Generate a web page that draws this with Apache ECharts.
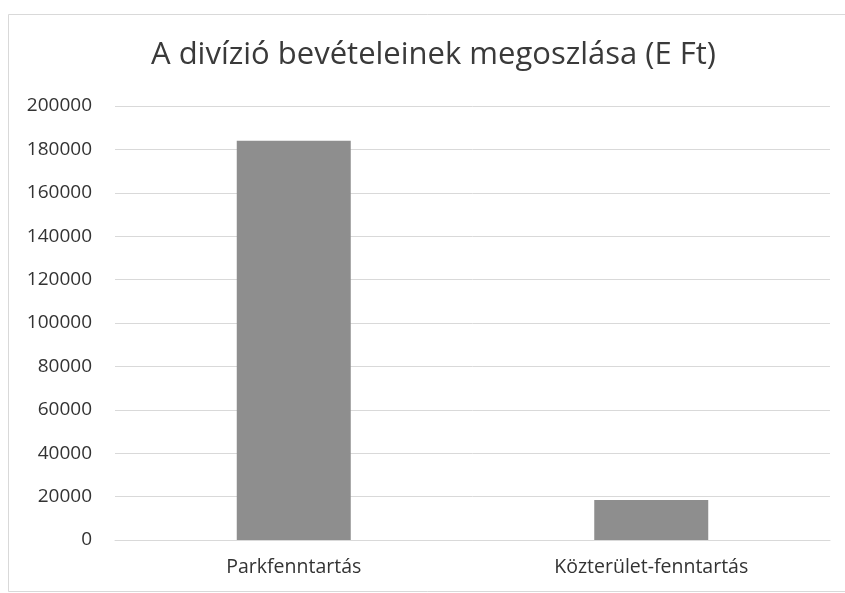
<!DOCTYPE html>
<html><head><meta charset="utf-8">
<script src="https://cdn.jsdelivr.net/npm/echarts@6/dist/echarts.min.js"></script>
<style>html,body{margin:0;padding:0;background:#fff}#c{width:845px;height:593px}</style>
</head><body><div id="c"></div>
<script>
const categories = ['Parkfenntartás', 'Közterület-fenntartás'];
const values = [184000, 18400];
const titleText = 'A divízió bevételeinek megoszlása (E Ft)';

const chart = echarts.init(document.getElementById('c'));
chart.setOption({
  backgroundColor: '#fff',
  animation: false,
  title: {
    text: titleText, left: 146, top: 35,
    textStyle: { fontFamily: 'Open Sans', fontSize: 31, fontWeight: 'normal', color: '#3a3a3a' }
  },
  graphic: [{ type: 'rect', shape: { x: 8.5, y: 14.5, width: 845, height: 577 },
    style: { fill: 'none', stroke: '#d9d9d9', lineWidth: 1 }, silent: true, z: -1 }],
  grid: { left: 115, right: 15, top: 106, bottom: 53, containLabel: false },
  xAxis: {
    type: 'category', data: categories,
    axisLine: { show: true, lineStyle: { color: '#d9d9d9' } },
    axisTick: { show: false },
    axisLabel: { margin: 17, fontFamily: 'Open Sans', fontSize: 19.5, color: '#333' }
  },
  yAxis: {
    type: 'value', min: 0, max: 200000, interval: 20000,
    axisLine: { show: false }, axisTick: { show: false },
    splitLine: { lineStyle: { color: '#d9d9d9' } },
    axisLabel: { margin: 23, fontFamily: 'Open Sans', fontSize: 19, color: '#333',
      formatter: function (v) { return String(v); } }
  },
  series: [{ type: 'bar', data: values, barWidth: 114,
    itemStyle: { color: '#8e8e8e' } }]
});
</script></body></html>
